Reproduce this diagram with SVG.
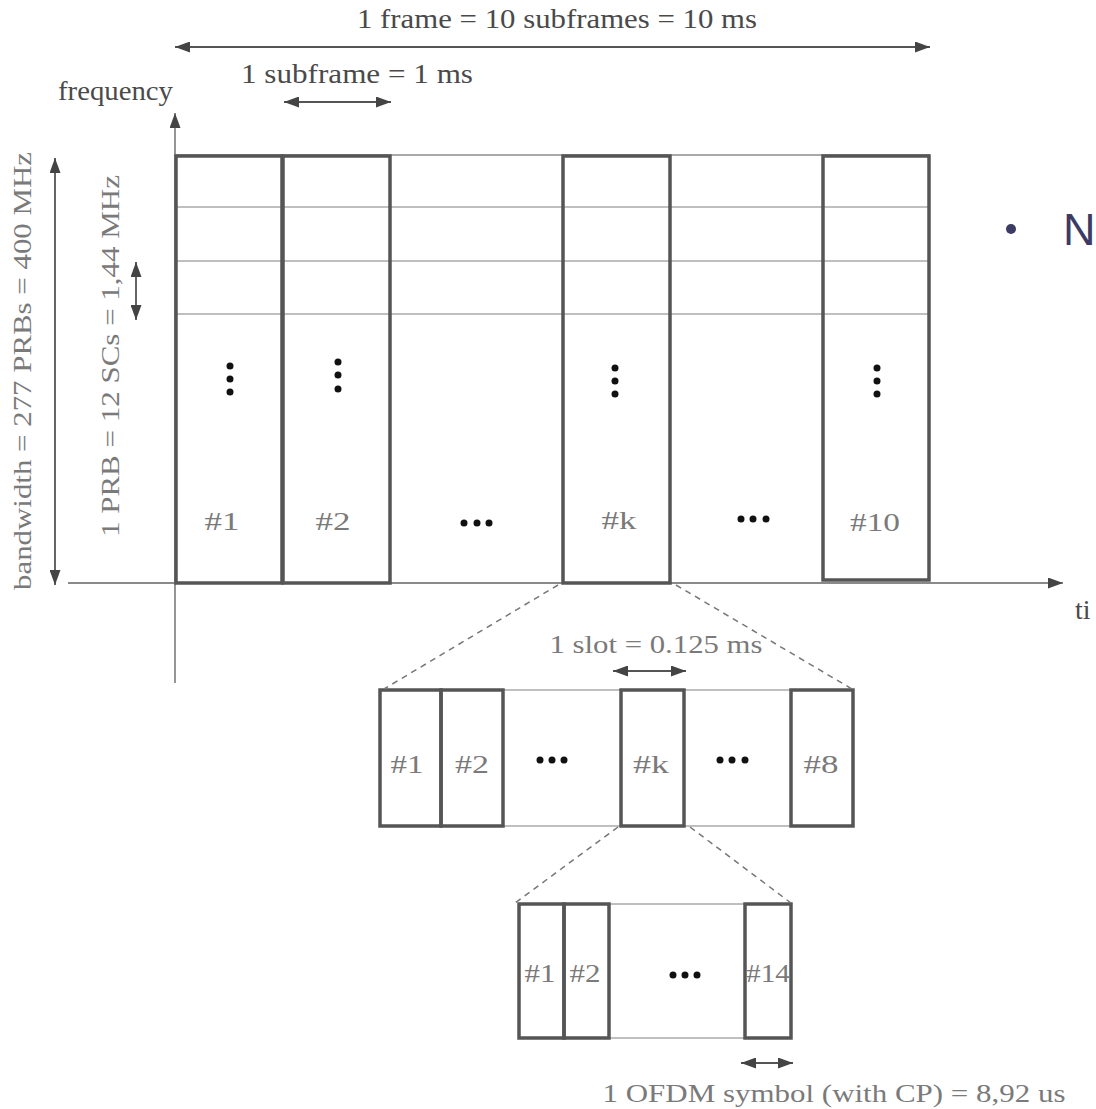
<svg xmlns="http://www.w3.org/2000/svg" width="1096" height="1109" viewBox="0 0 1096 1109">
  <defs>
    <marker id="head" markerUnits="userSpaceOnUse" markerWidth="15" markerHeight="11" refX="15" refY="5.5" orient="auto-start-reverse">
      <path d="M0,0 L15,5.5 L0,11 z" fill="#444"/>
    </marker>
    <style>
      text { font-family: "Liberation Serif", "Times New Roman", serif; }
      .lbl { font-size: 28px; fill: #4a4a4a; }
      .num { font-size: 26px; fill: #7a7a7a; text-anchor: middle; }
      .side { font-size: 26px; fill: #7a7a7a; text-anchor: middle; }
      .sans { font-family: "Liberation Sans", Arial, sans-serif; font-size: 45px; fill: #3c3b63; }
      .box { fill: none; stroke: #555; stroke-width: 3.5; }
      .grid { stroke: #aaa; stroke-width: 1.5; fill: none; }
      .edge { stroke: #8c8c8c; stroke-width: 1.6; fill: none; }
      .axis { stroke: #8a8a8a; stroke-width: 1.8; fill: none; }
      .dim { stroke: #555; stroke-width: 1.8; fill: none; marker-start: url(#head); marker-end: url(#head); }
      .zoom { stroke: #777; stroke-width: 1.5; stroke-dasharray: 6 5; fill: none; }
      .dot { fill: #111; }
    </style>
  </defs>
  <rect width="1096" height="1109" fill="#fff"/>

  <!-- axes -->
  <g id="axes">
    <line class="axis" x1="68" y1="583" x2="1063" y2="583" marker-end="url(#head)"/>
    <line class="axis" x1="175" y1="683" x2="175" y2="113" marker-end="url(#head)"/>
    <text class="lbl" x="58" y="100" textLength="115" lengthAdjust="spacingAndGlyphs">frequency</text>
    <text class="lbl" x="1075" y="619" font-size="24">ti</text>
  </g>

  <!-- PRB grid across the frame -->
  <g id="frame-grid">
    <line class="edge" x1="175" y1="155" x2="930" y2="155"/>
    <line class="grid" x1="175" y1="207" x2="930" y2="207"/>
    <line class="grid" x1="175" y1="261" x2="930" y2="261"/>
    <line class="grid" x1="175" y1="314" x2="930" y2="314"/>
  </g>

  <!-- subframes -->
  <g id="subframe-1">
    <rect class="box" x="176" y="156" width="106" height="427"/>
    <circle class="dot" cx="230" cy="366" r="3.5"/><circle class="dot" cx="230" cy="379" r="3.5"/><circle class="dot" cx="230" cy="392" r="3.5"/>
    <text class="num" x="222" y="530" textLength="35" lengthAdjust="spacingAndGlyphs">#1</text>
  </g>
  <g id="subframe-2">
    <rect class="box" x="283" y="156" width="107" height="427"/>
    <circle class="dot" cx="338" cy="362" r="3.5"/><circle class="dot" cx="338" cy="375" r="3.5"/><circle class="dot" cx="338" cy="389" r="3.5"/>
    <text class="num" x="333" y="530" textLength="35" lengthAdjust="spacingAndGlyphs">#2</text>
  </g>
  <g id="subframe-gap-1">
    <circle class="dot" cx="464" cy="523" r="3.5"/><circle class="dot" cx="477" cy="523" r="3.5"/><circle class="dot" cx="489" cy="523" r="3.5"/>
  </g>
  <g id="subframe-k">
    <rect class="box" x="563" y="156" width="107" height="427"/>
    <circle class="dot" cx="615" cy="368" r="3.5"/><circle class="dot" cx="615" cy="381" r="3.5"/><circle class="dot" cx="615" cy="394" r="3.5"/>
    <text class="num" x="619" y="529" textLength="35" lengthAdjust="spacingAndGlyphs">#k</text>
  </g>
  <g id="subframe-gap-2">
    <circle class="dot" cx="741" cy="519" r="3.5"/><circle class="dot" cx="753" cy="519" r="3.5"/><circle class="dot" cx="766" cy="519" r="3.5"/>
  </g>
  <g id="subframe-10">
    <rect class="box" x="823" y="156" width="106" height="424"/>
    <circle class="dot" cx="877" cy="368" r="3.5"/><circle class="dot" cx="877" cy="381" r="3.5"/><circle class="dot" cx="877" cy="394" r="3.5"/>
    <text class="num" x="875" y="531" textLength="50" lengthAdjust="spacingAndGlyphs">#10</text>
  </g>

  <!-- slots of subframe k -->
  <g id="slot-frame">
    <line class="grid" x1="380" y1="690" x2="853" y2="690"/>
    <line class="grid" x1="380" y1="826" x2="853" y2="826"/>
  </g>
  <g id="slot-1">
    <rect class="box" x="380" y="690" width="61" height="136"/>
    <text class="num" x="407" y="773" textLength="33" lengthAdjust="spacingAndGlyphs">#1</text>
  </g>
  <g id="slot-2">
    <rect class="box" x="441" y="690" width="62" height="136"/>
    <text class="num" x="472" y="773" textLength="34" lengthAdjust="spacingAndGlyphs">#2</text>
  </g>
  <g id="slot-gap-1">
    <circle class="dot" cx="540" cy="760" r="3.5"/><circle class="dot" cx="552" cy="760" r="3.5"/><circle class="dot" cx="564" cy="760" r="3.5"/>
  </g>
  <g id="slot-k">
    <rect class="box" x="621" y="690" width="63" height="136"/>
    <text class="num" x="651" y="773" textLength="36" lengthAdjust="spacingAndGlyphs">#k</text>
  </g>
  <g id="slot-gap-2">
    <circle class="dot" cx="720" cy="760" r="3.5"/><circle class="dot" cx="732" cy="760" r="3.5"/><circle class="dot" cx="745" cy="760" r="3.5"/>
  </g>
  <g id="slot-8">
    <rect class="box" x="791" y="690" width="62" height="136"/>
    <text class="num" x="821" y="773" textLength="35" lengthAdjust="spacingAndGlyphs">#8</text>
  </g>

  <!-- OFDM symbols of slot k -->
  <g id="symbol-frame">
    <line class="grid" x1="519" y1="904" x2="791" y2="904"/>
    <line class="grid" x1="519" y1="1038" x2="791" y2="1038"/>
  </g>
  <g id="symbol-1">
    <rect class="box" x="519" y="904" width="45" height="134"/>
    <text class="num" x="540" y="982" textLength="31" lengthAdjust="spacingAndGlyphs">#1</text>
  </g>
  <g id="symbol-2">
    <rect class="box" x="564" y="904" width="45" height="134"/>
    <text class="num" x="585" y="982" textLength="31" lengthAdjust="spacingAndGlyphs">#2</text>
  </g>
  <g id="symbol-gap">
    <circle class="dot" cx="673" cy="975" r="3.5"/><circle class="dot" cx="685" cy="975" r="3.5"/><circle class="dot" cx="697" cy="975" r="3.5"/>
  </g>
  <g id="symbol-14">
    <rect class="box" x="745" y="904" width="46" height="134"/>
    <text class="num" x="768" y="982" textLength="44" lengthAdjust="spacingAndGlyphs">#14</text>
  </g>

  <!-- connectors: zoom-in lines and dimension arrows -->
  <g id="connectors">
    <line class="zoom" x1="558" y1="585" x2="384" y2="689"/>
    <line class="zoom" x1="676" y1="585" x2="852" y2="689"/>
    <line class="zoom" x1="618" y1="827" x2="515" y2="903"/>
    <line class="zoom" x1="690" y1="827" x2="791" y2="903"/>

    <line class="dim" x1="175" y1="47" x2="930" y2="47"/>
    <line class="dim" x1="284" y1="102" x2="391" y2="102"/>
    <line class="dim" x1="55" y1="158" x2="55" y2="585"/>
    <line class="dim" x1="136" y1="262" x2="136" y2="320"/>
    <line class="dim" x1="613" y1="671" x2="686" y2="671"/>
    <line class="dim" x1="741" y1="1063" x2="793" y2="1063"/>
  </g>

  <!-- dimension labels -->
  <g id="labels">
    <text class="lbl" x="557" y="28" text-anchor="middle" textLength="400" lengthAdjust="spacingAndGlyphs">1 frame = 10 subframes = 10 ms</text>
    <text class="lbl" x="357" y="83" text-anchor="middle" textLength="232" lengthAdjust="spacingAndGlyphs">1 subframe = 1 ms</text>
    <text class="side" transform="translate(31,371) rotate(-90)" textLength="438" lengthAdjust="spacingAndGlyphs">bandwidth = 277 PRBs = 400 MHz</text>
    <text class="side" transform="translate(119,356) rotate(-90)" textLength="362" lengthAdjust="spacingAndGlyphs">1 PRB = 12 SCs = 1,44 MHz</text>
    <text class="num" x="656" y="653" fill="#8a8a8a" textLength="213" lengthAdjust="spacingAndGlyphs">1 slot = 0.125 ms</text>
    <text class="num" x="834" y="1102" fill="#6a6a6a" textLength="463" lengthAdjust="spacingAndGlyphs">1 OFDM symbol (with CP) = 8,92 us</text>
  </g>

  <!-- bullet text at the right edge -->
  <g id="bullet">
    <circle cx="1011" cy="229" r="5" fill="#3c3b63"/>
    <text class="sans" x="1063" y="245">N</text>
  </g>
</svg>
